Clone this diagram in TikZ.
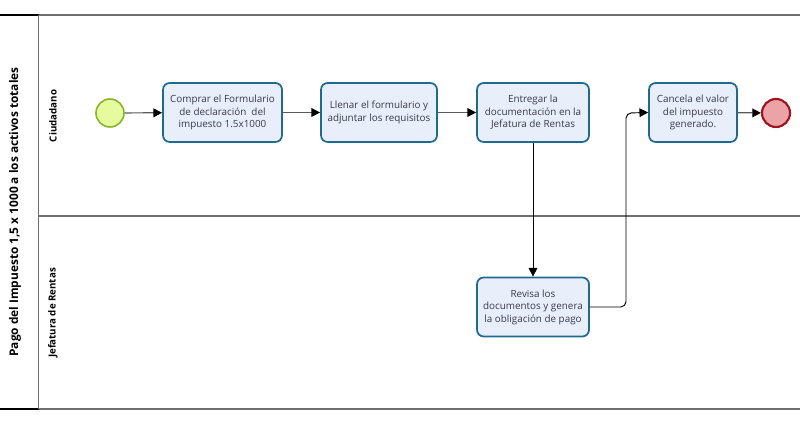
\documentclass[tikz,border=0pt]{standalone}
\usepackage{fontspec}
\setmainfont{Open Sans}
\usetikzlibrary{arrows.meta}
\definecolor{taskfill}{HTML}{E8EEFA}
\definecolor{taskdraw}{HTML}{1F6A8F}
\definecolor{tasktext}{HTML}{3A3A4A}
\definecolor{startfill}{HTML}{E6FA9E}
\definecolor{startdraw}{HTML}{8AB42E}
\definecolor{endfill}{HTML}{EBA3A7}
\definecolor{enddraw}{HTML}{A0141E}
\definecolor{laneline}{HTML}{6E6E6E}
\definecolor{flowgray}{HTML}{5A5A5A}
\tikzset{
  task/.style={draw=taskdraw, fill=taskfill, line width=1.3pt, rounded corners=5pt,
    minimum width=#1, minimum height=44.25pt, inner sep=1pt, align=center,
    text=tasktext, font=\fontsize{7.4}{9.4}\selectfont},
  task/.default=89.25pt,
  startev/.style={circle, draw=startdraw, fill=startfill, line width=1.2pt, minimum size=21pt, inner sep=0pt},
  endev/.style={circle, draw=enddraw, fill=endfill, line width=1.6pt, minimum size=21pt, inner sep=0pt},
  flow/.style={draw=flowgray, line width=0.9pt, -{Triangle[length=6.5pt,width=6.5pt,fill=black,color=black]}},
  flowk/.style={draw=black, line width=0.7pt, rounded corners=4pt, -{Triangle[length=6.5pt,width=6.5pt]}},
  lanelabel/.style={rotate=90, font=\bfseries\fontsize{7.3}{8.5}\selectfont},
}
\begin{document}
\begin{tikzpicture}[x=0.75pt, y=-0.75pt]
\useasboundingbox (0,0) rectangle (800,427);
% pool
\draw[black, line width=0.8pt] (0,15) -- (38.5,15);
\draw[black, line width=0.8pt] (0,409) -- (38.5,409);
\draw[laneline, line width=0.8pt] (38.5,15) -- (800,15);
\draw[laneline, line width=0.8pt] (38.5,409) -- (800,409);
\draw[laneline, line width=0.8pt] (38.5,216) -- (800,216);
\draw[laneline, line width=1.1pt] (38.5,15) -- (38.5,409);
\node[rotate=90, font=\bfseries\fontsize{8.9}{10.5}\selectfont] (title) at (15,212) {Pago del Impuesto 1,5 x 1000 a los activos totales};
\node[lanelabel] (lane1) at (53,116) {Ciudadano};
\node[lanelabel] (lane2) at (53,313) {Jefatura de Rentas};
% events
\node[startev] (start) at (110,113) {};
\node[endev] (end) at (776,113) {};
% tasks
\node[task] (t1) at (222.5,112.5) {Comprar el Formulario\\de declaración\ \ del\\impuesto 1.5x1000};
\node[task=87pt] (t2) at (379,112.5) {Llenar el formulario y\\adjuntar los requisitos};
\node[task=84pt] (t3) at (533,112.5) {Entregar la\\documentación en la\\Jefatura de Rentas};
\node[task=66pt] (t4) at (693,112.5) {Cancela el valor\\del impuesto\\generado.};
\node[task=84pt] (t5) at (533,307) {Revisa los\\documentos y genera\\la obligación de pago};
% flows
\draw[flow] (start) -- (t1);
\draw[flow] (t1) -- (t2);
\draw[flow] (t2) -- (t3);
\draw[flow] (t4) -- (end);
\draw[flowk] (t3) -- (t5);
\draw[flowk] (t5.east) -- (626,307) -- (626,113) -- (t4.west);
\end{tikzpicture}
\end{document}
